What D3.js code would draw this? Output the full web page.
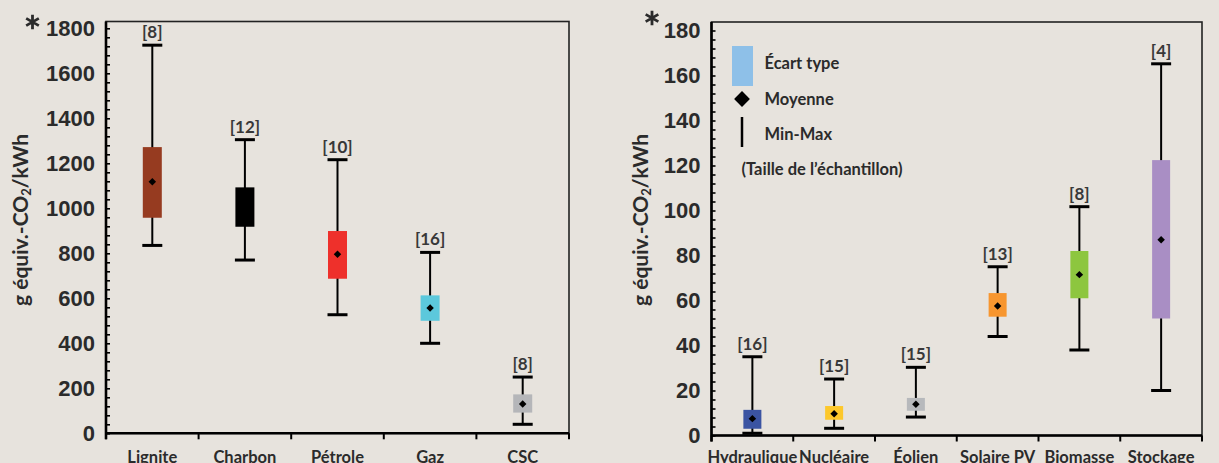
<!DOCTYPE html>
<html>
<head>
<meta charset="utf-8">
<script src="https://cdn.jsdelivr.net/npm/d3@7"></script>
<style>
  body { margin: 0; background: #E7E3DD; }
  svg { display: block; font-family: Lato, "Open Sans", sans-serif; }
  .tick line { stroke: #000; stroke-width: 1.6px; }
</style>
</head>
<body>
<div id="chart"></div>
<script>
// Fossiles (panneau gauche)
var fossilCats = ["Lignite", "Charbon", "Pétrole", "Gaz", "CSC"];
var fossilMin  = [835, 770, 527, 400, 40];
var fossilMax  = [1725, 1305, 1216, 804, 250];
var fossilSdLo = [958, 918, 687, 500, 92];
var fossilSdHi = [1272, 1093, 899, 613, 173];
var fossilMean = [1118, 1005, 796, 557, 130];
var fossilN    = [8, 12, 10, 16, 8];
var fossilColors = ["#963B20", "#000000", "#EE302B", "#5CC8DC", "#B5B6B9"];
var fossilTicks = [0, 200, 400, 600, 800, 1000, 1200, 1400, 1600, 1800];

// Renouvelables / nucléaire (panneau droit)
var renewCats = ["Hydraulique", "Nucléaire", "Éolien", "Solaire PV", "Biomasse", "Stockage"];
var renewMin  = [1, 3.2, 8.2, 44, 38, 20];
var renewMax  = [35, 25.1, 30.3, 75, 101.7, 165.2];
var renewSdLo = [3, 7, 11, 52.8, 61, 52];
var renewSdHi = [11.4, 13.1, 16.7, 63.3, 82, 122.4];
var renewMean = [7.5, 9.7, 13.9, 57.6, 71.5, 87];
var renewN    = [16, 15, 15, 13, 8, 4];
var renewColors = ["#3B54A2", "#FDC82B", "#B7B9BC", "#F7962F", "#8DC63F", "#A98EC4"];
var renewTicks = [0, 20, 40, 60, 80, 100, 120, 140, 160, 180];

var legendLabels = ["Écart type", "Moyenne", "Min-Max", "(Taille de l’échantillon)"];

var w = 1219;
var h = 463;

var svg = d3.select("#chart")
    .append("svg")
    .attr("width", w)
    .attr("height", h);

svg.append("rect").attr("width", w).attr("height", h).attr("fill", "#E7E3DD");

function drawPanel(opt) {
    var xScale = d3.scaleBand()
        .domain(opt.cats)
        .range([opt.left, opt.right])
        .padding(0);

    var yScale = d3.scaleLinear()
        .domain([0, opt.yMax])
        .range([opt.bottom, opt.top]);

    var g = svg.append("g");

    // frame (top + right thinner)
    g.append("rect")
        .attr("x", opt.left)
        .attr("y", opt.frameTop)
        .attr("width", opt.right - opt.left)
        .attr("height", opt.bottom - opt.frameTop)
        .attr("fill", "none")
        .attr("stroke", "#222")
        .attr("stroke-width", 1.6);

    // y axis: minor ticks inward, labels on majors
    var minorStep = opt.yMax / 45;
    var allTicks = d3.range(0, opt.yMax + minorStep / 2, minorStep);
    var yAxis = d3.axisLeft(yScale)
        .tickValues(allTicks)
        .tickSize(-4)
        .tickPadding(11)
        .tickFormat(function(d) {
            var r = Math.round(d * 100) / 100;
            return opt.ticks.indexOf(r) >= 0 ? r : "";
        });

    var ya = g.append("g")
        .attr("transform", "translate(" + opt.left + ",0)")
        .call(yAxis);
    ya.select(".domain").remove();
    ya.selectAll("text")
        .style("font-size", "22px")
        .style("font-weight", 700)
        .attr("fill", "#2B2B2B");

    // thick left and bottom axis lines
    g.append("line")
        .attr("x1", opt.left).attr("x2", opt.left)
        .attr("y1", opt.frameTop).attr("y2", opt.bottom + 6)
        .attr("stroke", "#000").attr("stroke-width", 2.6);
    g.append("line")
        .attr("x1", opt.left).attr("x2", opt.right)
        .attr("y1", opt.bottom).attr("y2", opt.bottom)
        .attr("stroke", "#000").attr("stroke-width", 2.6);

    // category boundary ticks
    var bounds = opt.cats.map(function(c) { return xScale(c); }).concat([opt.right]);
    g.selectAll(".btick")
        .data(bounds)
        .enter()
        .append("line")
        .attr("x1", function(d) { return d; })
        .attr("x2", function(d) { return d; })
        .attr("y1", opt.bottom)
        .attr("y2", opt.bottom + 6)
        .attr("stroke", "#000")
        .attr("stroke-width", 2);

    // category labels
    g.selectAll(".cat")
        .data(opt.cats)
        .enter()
        .append("text")
        .attr("x", function(d) { return xScale(d) + xScale.bandwidth() / 2; })
        .attr("y", 463)
        .attr("text-anchor", "middle")
        .style("font-size", "16.5px")
        .style("font-weight", 700)
        .attr("fill", "#2B2B2B")
        .text(function(d) { return d; });

    var cx = function(i) { return xScale(opt.cats[i]) + xScale.bandwidth() / 2; };
    var idx = d3.range(opt.cats.length);

    // whiskers
    g.selectAll(".whisker")
        .data(idx)
        .enter()
        .append("line")
        .attr("x1", cx).attr("x2", cx)
        .attr("y1", function(i) { return yScale(opt.min[i]); })
        .attr("y2", function(i) { return yScale(opt.max[i]); })
        .attr("stroke", "#000")
        .attr("stroke-width", 2);

    // caps
    [opt.min, opt.max].forEach(function(arr) {
        g.selectAll(null)
            .data(idx)
            .enter()
            .append("line")
            .attr("x1", function(i) { return cx(i) - 10; })
            .attr("x2", function(i) { return cx(i) + 10; })
            .attr("y1", function(i) { return yScale(arr[i]); })
            .attr("y2", function(i) { return yScale(arr[i]); })
            .attr("stroke", "#000")
            .attr("stroke-width", 3);
    });

    // std dev boxes
    g.selectAll(".box")
        .data(idx)
        .enter()
        .append("rect")
        .attr("x", function(i) { return cx(i) - opt.boxW / 2; })
        .attr("width", opt.boxW)
        .attr("y", function(i) { return yScale(opt.sdHi[i]); })
        .attr("height", function(i) { return yScale(opt.sdLo[i]) - yScale(opt.sdHi[i]); })
        .attr("fill", function(i) { return opt.colors[i]; });

    // means
    g.selectAll(".mean")
        .data(idx)
        .enter()
        .append("path")
        .attr("d", d3.symbol().type(d3.symbolSquare).size(28))
        .attr("transform", function(i) {
            return "translate(" + cx(i) + "," + yScale(opt.mean[i]) + ") rotate(45)";
        })
        .attr("fill", "#000");

    // sample sizes
    g.selectAll(".n")
        .data(idx)
        .enter()
        .append("text")
        .attr("x", cx)
        .attr("y", function(i) { return yScale(opt.max[i]) - 7; })
        .attr("text-anchor", "middle")
        .style("font-size", "17px")
        .style("font-weight", 700)
        .attr("fill", "#383838")
        .text(function(i) { return "[" + opt.n[i] + "]"; });

    // y title
    var t = g.append("text")
        .attr("transform", "translate(" + opt.titleX + ",220) rotate(-90)")
        .attr("text-anchor", "middle")
        .attr("dy", "0.35em")
        .style("font-size", "21px")
        .style("font-weight", 700)
        .attr("fill", "#2B2B2B");
    t.append("tspan").text("g équiv.-CO");
    t.append("tspan").text("2").style("font-size", "13px").attr("baseline-shift", "-25%");
    t.append("tspan").text("/kWh");

    // asterisk
    g.append("path")
        .attr("d", d3.symbol().type(d3.symbolAsterisk).size(150))
        .attr("transform", "translate(" + opt.starX + "," + opt.starY + ")")
        .attr("fill", "none")
        .attr("stroke", "#2B2B2B")
        .attr("stroke-width", 2.8);

    return g;
}

drawPanel({
    cats: fossilCats, min: fossilMin, max: fossilMax, sdLo: fossilSdLo, sdHi: fossilSdHi,
    mean: fossilMean, n: fossilN, colors: fossilColors, ticks: fossilTicks,
    yMax: 1800, left: 106, right: 569, top: 28.3, bottom: 433.3, frameTop: 21.5,
    boxW: 19, titleX: 21, starX: 32.5, starY: 22
});

var rg = drawPanel({
    cats: renewCats, min: renewMin, max: renewMax, sdLo: renewSdLo, sdHi: renewSdHi,
    mean: renewMean, n: renewN, colors: renewColors, ticks: renewTicks,
    yMax: 180, left: 711.5, right: 1202, top: 30.5, bottom: 435.5, frameTop: 22,
    boxW: 18, titleX: 641, starX: 652, starY: 18
});

// legend
var lg = rg.append("g");
lg.append("rect")
    .attr("x", 732).attr("y", 46)
    .attr("width", 21).attr("height", 40)
    .attr("fill", "#8EC0E8");
lg.append("path")
    .attr("d", d3.symbol().type(d3.symbolSquare).size(125))
    .attr("transform", "translate(742,99) rotate(45)")
    .attr("fill", "#000");
lg.append("line")
    .attr("x1", 742).attr("x2", 742)
    .attr("y1", 117).attr("y2", 147)
    .attr("stroke", "#000").attr("stroke-width", 2.5);
var legY = [63.5, 99.5, 134, 169.5];
var legX = [764.5, 764.5, 764.5, 741.5];
lg.selectAll(".leg")
    .data(legendLabels)
    .enter()
    .append("text")
    .attr("x", function(d, i) { return legX[i]; })
    .attr("y", function(d, i) { return legY[i]; })
    .attr("dy", "0.35em")
    .style("font-size", "16.5px")
    .style("font-weight", 700)
    .attr("fill", "#2B2B2B")
    .text(function(d) { return d; });
</script>
</body>
</html>
